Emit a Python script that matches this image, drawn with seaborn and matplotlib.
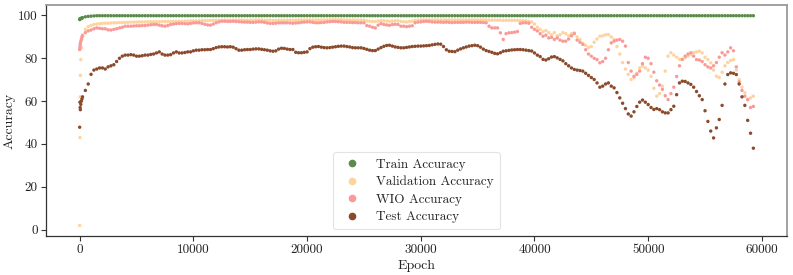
import matplotlib
matplotlib.use("Agg")
import matplotlib.pyplot as plt
import seaborn as sns
import pandas as pd
from matplotlib.lines import Line2D

# ---------------- data ----------------
early_epochs = [0, 20, 40, 60, 100, 150, 200]
log_step = 250
epochs = early_epochs + list(range(250, 59251, log_step))

train_acc = [
    98.1, 98.3, 98.4, 98.5, 98.6, 98.7, 98.8,
    99.0, 99.4, 99.6, 99.7, 99.8, 99.9, 99.9, 99.9, 99.9, 99.9,  # 250-2500
    99.9, 99.9, 99.9, 99.9, 99.9, 99.9, 99.9, 99.9, 99.9, 99.9,  # 1
    99.9, 99.9, 99.9, 99.9, 99.9, 99.9, 99.9, 99.9, 99.9, 99.9,  # 2
    99.9, 99.9, 99.9, 99.9, 99.9, 99.9, 99.9, 99.9, 99.9, 99.9,  # 3
    99.9, 99.9, 99.9, 99.9, 99.9, 99.9, 99.9, 99.9, 99.9, 99.9,  # 4
    99.9, 99.9, 99.9, 99.9, 99.9, 99.9, 99.9, 99.9, 99.9, 99.9,  # 5
    99.9, 99.9, 99.9, 99.9, 99.9, 99.9, 99.9, 99.9, 99.9, 99.9,  # 6
    99.9, 99.9, 99.9, 99.9, 99.9, 99.9, 99.9, 99.9, 99.9, 99.9,  # 7
    99.9, 99.9, 99.9, 99.9, 99.9, 99.9, 99.9, 99.9, 99.9, 99.9,  # 8
    99.9, 99.9, 99.9, 99.9, 99.9, 99.9, 99.9, 99.9, 99.9, 99.9,  # 9
    99.9, 99.9, 99.9, 99.9, 99.9, 99.9, 99.9, 99.9, 99.9, 99.9,  # 10
    99.9, 99.9, 99.9, 99.9, 99.9, 99.9, 99.9, 99.9, 99.9, 99.9,  # 11
    99.9, 99.9, 99.9, 99.9, 99.9, 99.9, 99.9, 99.9, 99.9, 99.9,  # 12
    99.9, 99.9, 99.9, 99.9, 99.9, 99.9, 99.9, 99.9, 99.9, 99.9,  # 13
    99.9, 99.9, 99.9, 99.9, 99.9, 99.9, 99.9, 99.9, 99.9, 99.9,  # 14
    99.9, 99.9, 99.9, 99.9, 99.9, 99.9, 99.9, 99.9, 99.9, 99.9,  # 15
    99.9, 99.9, 99.9, 99.9, 99.9, 99.9, 99.9, 99.9, 99.9, 99.9,  # 16
    99.9, 99.9, 99.9, 99.9, 99.9, 99.9, 99.9, 99.9, 99.9, 99.9,  # 17
    99.9, 99.9, 99.9, 99.9, 99.9, 99.9, 99.9, 99.9, 99.9, 99.9,  # 18
    99.9, 99.9, 99.9, 99.9, 99.9, 99.9, 99.9, 99.9, 99.9, 99.9,  # 19
    99.9, 99.9, 99.9, 99.9, 99.9, 99.9, 99.9, 99.9, 99.9, 99.9,  # 20
    99.9, 99.9, 99.9, 99.9, 99.9, 99.9, 99.9, 99.9, 99.9, 99.9,  # 21
    99.9, 99.9, 99.9, 99.9, 99.9, 99.9, 99.9, 99.9, 99.9, 99.9,  # 22
    99.9, 99.9, 99.9, 99.9, 99.9, 99.9, 99.9,                    # tail
]

val_acc = [
    1.9, 43.0, 62.0, 72.0, 79.4, 85.0, 88.8,
    91.0, 93.5, 94.8, 95.4, 95.8, 96.0, 96.2, 96.3, 96.4, 96.4,
    96.5, 96.6, 96.6, 96.7, 96.7, 96.8, 96.8, 96.9, 96.9, 96.9,
    97.0, 97.0, 97.0, 97.1, 97.1, 97.1, 97.1, 97.1, 97.2, 97.2,
    97.2, 97.2, 97.3, 97.3, 97.3, 97.3, 97.4, 97.4, 97.5, 97.5,
    97.5, 97.6, 97.6, 97.6, 97.6, 97.7, 97.7, 97.7, 97.7, 97.8,
    97.8, 97.8, 97.8, 97.8, 97.9, 97.9, 97.9, 97.8, 97.8, 97.8,
    97.8, 97.9, 97.9, 97.9, 97.8, 97.8, 97.8, 97.7, 97.7, 97.8,
    97.8, 97.8, 97.8, 97.8, 97.8, 97.8, 97.9, 97.9, 97.9, 97.9,
    97.9, 97.9, 97.9, 97.9, 97.9, 97.9, 97.9, 98.0, 98.0, 98.0,
    98.0, 98.0, 97.9, 97.9, 97.9, 97.9, 97.8, 97.8, 97.8, 97.8,
    97.5, 97.3, 97.2, 97.2, 97.4, 97.6, 97.5, 97.4, 97.3, 97.4,
    97.5, 97.5, 97.2, 97.1, 97.0, 97.2, 97.4, 97.7, 97.8, 97.9,
    97.9, 97.9, 97.9, 97.9, 97.9, 97.9, 97.9, 97.9, 97.9, 97.9,
    97.9, 97.9, 97.9, 97.9, 97.9, 97.9, 97.9, 97.9, 97.9, 97.9,
    97.9, 97.9, 97.9, 97.8, 97.8, 97.8, 97.8, 97.8, 97.7, 97.7,
    97.7, 97.7, 97.7, 97.7, 97.7, 97.6, 97.5, 97.3, 97.0, 96.0,
    94.5, 93.5, 92.5, 93.0, 92.0, 91.0, 92.0, 90.5, 91.0, 92.0,
    91.5, 90.5, 91.5, 91.9, 90.0, 88.8, 87.0, 86.0, 85.0, 85.5,
    87.5, 89.0, 90.3, 90.5, 91.0, 91.1, 90.0, 88.8, 85.5, 82.0,
    78.0, 75.0, 72.5, 70.1, 71.0, 73.0, 75.5, 76.3, 75.5, 74.5,
    71.6, 66.0, 62.3, 63.5, 67.0, 74.0, 81.0, 82.6, 81.5, 80.5,
    79.5, 79.4, 80.2, 81.0, 81.8, 82.6, 83.0, 83.3, 82.5, 80.5,
    79.4, 77.9, 74.5, 71.6, 71.0, 73.5, 76.5, 78.0, 79.0, 79.4,
    74.5, 70.0, 66.5, 63.9, 60.7, 61.5, 62.3,
]

wio_acc = [
    84.1, 85.0, 86.0, 87.0, 88.0, 89.0, 90.0,
    90.5, 92.0, 92.8, 93.2, 93.8, 94.2, 94.0, 93.8, 93.8, 93.3,
    93.2, 93.5, 93.8, 94.2, 94.5, 95.0, 95.0, 95.0, 95.1, 95.2,
    95.2, 95.3, 95.3, 95.5, 95.7, 95.8, 95.8, 95.5, 95.2, 95.0,
    95.3, 95.8, 96.0, 96.2, 96.3, 96.3, 96.2, 96.1, 96.3, 96.5,
    96.6, 96.6, 96.3, 95.9, 95.6, 95.5, 96.0, 96.6, 97.0, 97.3,
    97.3, 97.2, 97.2, 97.3, 97.2, 97.1, 97.0, 96.9, 96.9, 96.8,
    96.8, 96.9, 97.0, 97.0, 96.8, 96.5, 96.3, 96.3, 96.4, 96.6,
    96.6, 96.6, 96.6, 96.5, 96.4, 96.5, 96.6, 96.8, 96.9, 97.0,
    97.0, 96.8, 96.6, 96.6, 96.7, 96.8, 97.0, 97.1, 97.2, 97.2,
    97.1, 97.0, 96.8, 96.8, 96.8, 96.7, 96.7, 96.6, 96.6, 96.6,
    95.3, 95.0, 94.5, 94.2, 95.5, 96.2, 95.8, 95.6, 95.4, 95.8,
    95.9, 95.8, 95.0, 95.0, 94.8, 95.0, 95.2, 96.6, 96.9, 97.0,
    97.2, 97.3, 97.2, 97.0, 96.9, 96.9, 96.9, 96.8, 96.9, 96.8,
    96.7, 96.8, 96.8, 96.8, 96.8, 96.9, 96.9, 96.8, 96.8, 96.8,
    96.8, 96.7, 96.6, 95.0, 94.2, 94.2, 94.2, 91.9, 88.8, 91.5,
    91.9, 92.0, 92.2, 92.5, 96.3, 96.6, 96.6, 96.4, 94.5, 93.5,
    92.8, 91.5, 90.3, 90.8, 89.5, 89.8, 88.8, 89.5, 88.5, 88.0,
    88.0, 89.0, 90.5, 91.5, 88.5, 87.5, 86.5, 84.0, 82.0, 81.0,
    80.0, 79.4, 77.9, 78.5, 80.0, 84.0, 87.2, 88.0, 88.5, 88.8,
    88.0, 85.7, 78.0, 74.0, 71.6, 72.5, 74.0, 77.5, 80.5, 80.0,
    77.5, 73.5, 69.5, 67.5, 65.5, 62.5, 60.7, 63.5, 66.5, 71.5,
    76.5, 79.5, 81.0, 82.0, 82.6, 81.0, 79.4, 79.2, 78.5, 77.0,
    76.0, 75.5, 76.5, 78.0, 80.5, 82.6, 81.5, 83.0, 84.9, 83.5,
    76.0, 69.0, 65.0, 62.3, 60.7, 57.0, 57.5,
]

test_acc = [
    47.8, 59.5, 57.0, 56.0, 58.5, 60.0, 61.0,
    62.0, 65.0, 68.0, 72.5, 74.5, 75.0, 75.5, 75.5, 75.0, 76.0,
    76.5, 77.0, 78.5, 80.0, 81.0, 81.5, 81.5, 81.7, 81.5, 81.0,
    81.0, 81.2, 81.5, 81.5, 81.8, 82.0, 82.5, 83.0, 82.0, 81.5,
    81.5, 81.7, 82.5, 83.0, 82.5, 82.5, 82.7, 83.0, 83.0, 83.5,
    83.8, 83.8, 84.0, 84.0, 84.1, 84.1, 84.5, 85.0, 85.3, 85.4,
    85.4, 85.3, 85.4, 85.2, 84.5, 83.8, 83.8, 84.0, 84.1, 84.1,
    84.3, 84.4, 84.4, 84.2, 84.0, 83.8, 83.5, 83.3, 83.5, 84.3,
    84.7, 84.6, 84.3, 84.1, 84.1, 82.8, 82.6, 82.6, 82.8, 83.0,
    84.5, 85.2, 85.4, 85.5, 85.2, 85.0, 84.9, 85.0, 85.2, 85.4,
    85.6, 85.7, 85.7, 85.5, 85.3, 85.0, 84.9, 84.9, 84.9, 84.6,
    84.2, 83.8, 83.6, 83.6, 84.3, 85.0, 85.6, 86.0, 86.1, 85.7,
    85.3, 85.1, 84.9, 84.9, 85.1, 85.3, 85.5, 85.6, 85.7, 85.7,
    85.8, 85.9, 86.0, 86.3, 86.5, 86.7, 86.6, 85.5, 84.0, 83.3,
    83.2, 83.1, 83.8, 84.4, 84.9, 85.3, 85.7, 85.9, 86.1, 85.9,
    85.2, 84.3, 83.6, 83.2, 82.8, 82.3, 82.1, 82.6, 83.3, 83.5,
    83.7, 83.9, 84.0, 84.1, 84.1, 84.0, 83.8, 83.6, 83.4, 82.5,
    81.5, 80.8, 79.5, 79.2, 79.8, 80.6, 80.8, 80.2, 79.5, 78.8,
    77.5, 76.5, 75.5, 74.8, 74.5, 74.3, 74.0, 73.0, 72.0, 71.0,
    70.1, 68.5, 66.5, 67.0, 68.0, 68.5, 67.0, 66.2, 64.0, 61.5,
    59.0, 56.5, 54.0, 53.0, 55.0, 57.5, 59.5, 60.5, 59.5, 58.4,
    57.0, 56.1, 56.5, 56.0, 55.0, 54.5, 54.5, 56.0, 57.6, 63.0,
    68.5, 69.3, 69.2, 68.5, 67.8, 66.5, 64.5, 62.5, 60.7, 55.5,
    50.5, 46.0, 42.8, 47.5, 51.4, 58.0, 68.0, 72.4, 73.2, 73.0,
    72.4, 68.0, 62.0, 58.0, 51.0, 45.0, 38.0,
]

series_names = ["Train Accuracy", "Validation Accuracy", "WIO Accuracy", "Test Accuracy"]
series_values = [train_acc, val_acc, wio_acc, test_acc]
series_colors = ["#5b8c4b", "#fdd49e", "#f99a98", "#8b4a2b"]

xticks = [0, 10000, 20000, 30000, 40000, 50000, 60000]
yticks = [0, 20, 40, 60, 80, 100]

# ---------------- build table ----------------
lengths = [len(epochs)] + [len(v) for v in series_values]
if len(set(lengths)) != 1:
    raise ValueError(f"length mismatch: {lengths}")

frames = []
for name, vals in zip(series_names, series_values):
    frames.append(pd.DataFrame({"Epoch": epochs, "Accuracy": vals, "Series": name}))
df = pd.concat(frames, ignore_index=True)

# ---------------- style ----------------
sns.set_theme(style="ticks")
plt.rcParams["font.family"] = ["cmr10", "DejaVu Serif"]
plt.rcParams["mathtext.fontset"] = "cm"
plt.rcParams["axes.formatter.use_mathtext"] = True
plt.rcParams["axes.unicode_minus"] = False

fig = plt.figure(figsize=(7.93, 2.75), dpi=100)
ax = fig.add_axes([0.058, 0.142, 0.9345, 0.839])

palette = dict(zip(series_names, series_colors))
sns.scatterplot(data=df, x="Epoch", y="Accuracy", hue="Series",
                hue_order=series_names, palette=palette, s=6,
                linewidth=0, legend=False, ax=ax)

ax.set_xticks(xticks)
ax.set_yticks(yticks)
ax.set_xticklabels([str(t) for t in xticks])
ax.set_yticklabels([str(t) for t in yticks])
ax.tick_params(labelsize=9.5, length=3.5, width=0.8, colors="#333333",
               labelcolor="#222222", pad=2.5)
ax.set_xlabel("Epoch", fontsize=10, color="#222222")
ax.set_ylabel("Accuracy", fontsize=10, color="#222222")
ax.yaxis.set_label_coords(-0.041, 0.5)
ax.xaxis.set_label_coords(0.5, -0.105)

for side in ["left", "bottom"]:
    ax.spines[side].set_color("#333333")
    ax.spines[side].set_linewidth(0.9)
for side in ["top", "right"]:
    ax.spines[side].set_visible(True)
    ax.spines[side].set_color("#9a9a9a")
    ax.spines[side].set_linewidth(1.3)

handles = [Line2D([], [], marker="o", linestyle="", color=c, markersize=4.5)
           for c in series_colors]
leg = ax.legend(handles, series_names, loc="lower center", fontsize=9.5,
                labelspacing=0.4, handletextpad=0.8, frameon=True,
                fancybox=True, borderpad=0.45)
leg.get_frame().set_edgecolor("#dddddd")
leg.get_frame().set_linewidth(0.8)

fig.savefig("out.png", dpi=100)
